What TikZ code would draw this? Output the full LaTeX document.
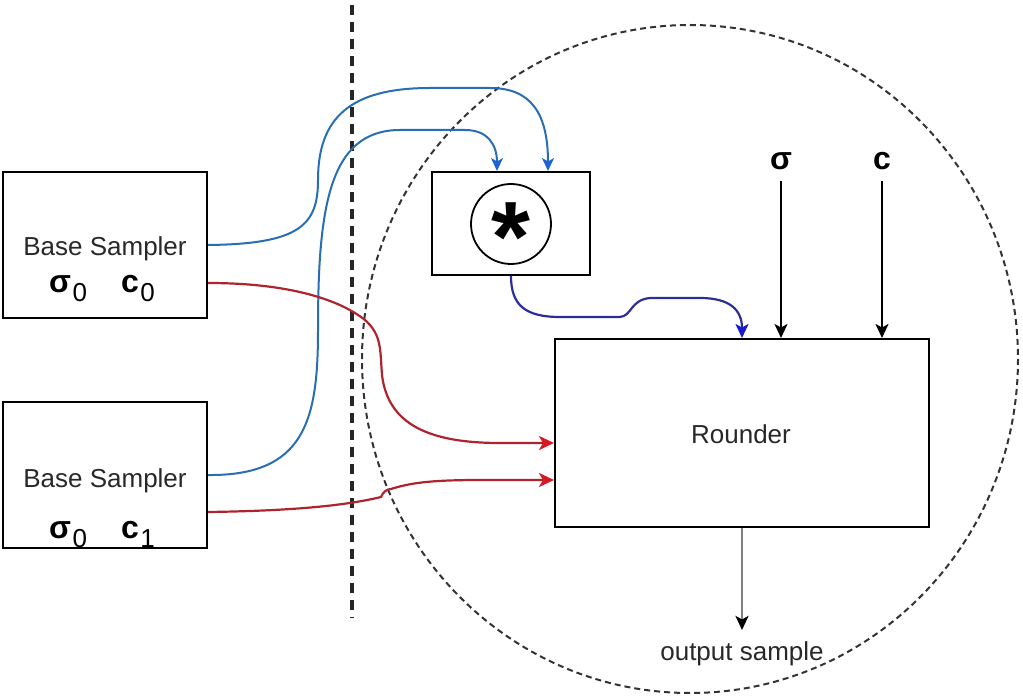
\documentclass[tikz,border=0pt]{standalone}
\usepackage{fontspec}
\setmainfont{Liberation Sans}
\usetikzlibrary{arrows.meta,calc}
\definecolor{edgeblue}{RGB}{40,110,180}
\definecolor{tipblue}{RGB}{30,100,210}
\definecolor{edgered}{RGB}{175,35,45}
\definecolor{tipred}{RGB}{215,25,35}
\definecolor{navy}{RGB}{45,45,150}
\definecolor{tipnavy}{RGB}{25,25,210}
\definecolor{txt}{RGB}{40,40,40}
\newcommand{\lowsub}[1]{\kern1.5pt\raisebox{-9pt}{\fontsize{26}{26}\selectfont\mdseries #1}}
\begin{document}
\begin{tikzpicture}[x=1pt,y=-1pt,
  box/.style={draw, line width=2pt, inner sep=0pt},
  lbl/.style={font=\fontsize{26}{30}\selectfont, text=txt, inner sep=0pt},
  sym/.style={font=\fontsize{32}{36}\selectfont\bfseries, text=black, inner sep=0pt},
  arrB/.style={draw=edgeblue, line width=2pt, -{Stealth[length=13pt,width=12pt,inset=3.5pt,color=tipblue]}},
  arrR/.style={draw=edgered, line width=2.2pt, -{Stealth[length=15pt,width=14pt,inset=4pt,color=tipred]}},
  arrN/.style={draw=navy, line width=2.2pt, -{Stealth[length=14pt,width=13pt,inset=3.5pt,color=tipnavy]}},
  arrK/.style={draw=black, line width=2.2pt, -{Stealth[length=14pt,width=13pt,inset=3.5pt]}},
  arrO/.style={draw=black!50, line width=2.6pt, -{Stealth[length=14pt,width=13pt,inset=3.5pt,color=black]}},
  ring/.style={draw=black!80, line width=2pt, dash pattern=on 6pt off 4pt},
  divider/.style={draw=black!85, line width=4pt, dash pattern=on 10pt off 7pt}
]
\useasboundingbox (0,0) rectangle (1023,700);

% region boundaries
\draw[ring] (690,359) ellipse [x radius=328, y radius=334];
\draw[divider] (352,5) -- (352,618);

% base samplers
\node[box, minimum width=204pt, minimum height=146pt] (bs0) at (105,245) {};
\node[lbl, anchor=base] (bs0t) at (105,256) {Base Sampler};
\node[sym, anchor=base west] (bs0s) at (49,293) {σ\lowsub{0}};
\node[sym, anchor=base west] (bs0c) at (121,293) {c\lowsub{0}};

\node[box, minimum width=204pt, minimum height=146pt] (bs1) at (105,475) {};
\node[lbl, anchor=base] (bs1t) at (105,487) {Base Sampler};
\node[sym, anchor=base west] (bs1s) at (49,538) {σ\lowsub{0}};
\node[sym, anchor=base west] (bs1c) at (121,538) {c\lowsub{1}};

% multiplier
\node[box, minimum width=158pt, minimum height=103pt] (mul) at (511,223.5) {};
\node[draw, circle, line width=1.8pt, minimum size=80pt, inner sep=0pt] (mulc) at (511,224) {};
\node[font=\fontsize{100}{100}\selectfont\bfseries, inner sep=0pt, anchor=base] (star) at (511,272) {*};

% rounder
\node[box, minimum width=374pt, minimum height=188pt] (rd) at (742,433) {};
\node[lbl, anchor=base] (rdt) at (741,444) {Rounder};

% parameters
\node[sym, anchor=base] (sg) at (781,170) {σ};
\node[sym, anchor=base] (cc) at (882,170) {c};
\node[lbl, anchor=base] (out) at (742,660) {output sample};

% blue edges into the multiplier
\draw[arrB] (bs0.east) .. controls (300,244) and (318,225) .. (318,180)
  .. controls (318,118) and (350,88) .. (430,88) -- (490,88)
  .. controls (530,88) and (548,112) .. ([xshift=37pt]mul.north);
\draw[arrB] (bs1.east) .. controls (305,476) and (318,420) .. (318,330)
  .. controls (318,210) and (328,130) .. (400,130) -- (465,130)
  .. controls (488,130) and (497,145) .. ([xshift=-14pt]mul.north);

% red edges into the rounder
\draw[arrR] ([yshift=-38pt]bs0.east) .. controls (290,283) and (340,300) .. (365,320)
  .. controls (382,335) and (380,350) .. (382,375)
  .. controls (388,425) and (430,443) .. (500,443) -- ([yshift=-10pt]rd.west);
\draw[arrR] ([yshift=-37pt]bs1.east) .. controls (280,511) and (340,507) .. (381,497)
  .. controls (383,492) and (387,489) .. (391,489)
  .. controls (410,483) and (430,480) .. (480,480) -- ([yshift=-47pt]rd.west);

% product into the rounder
\draw[arrN] (mul.south) .. controls (511,305) and (525,317) .. (560,317) -- (620,317)
  .. controls (632,316) and (630,300) .. (650,298) -- (700,298)
  .. controls (730,298) and (742,310) .. (rd.north);

% sigma and c inputs
\draw[arrK, shorten <=10pt] (sg.south) -- (sg.south |- rd.north);
\draw[arrK, shorten <=10pt] (cc.south) -- (cc.south |- rd.north);

% output
\draw[arrO, shorten >=11pt] (rd.south) -- (rd.south |- out.north);
\end{tikzpicture}
\end{document}
